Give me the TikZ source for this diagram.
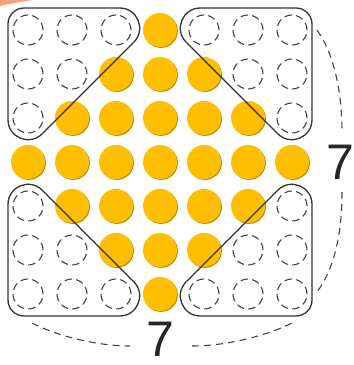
\documentclass[tikz,border=0pt]{standalone}
\usepackage{fontspec}
\setmainfont{Liberation Sans}
\usetikzlibrary{shadows}
\definecolor{yel}{HTML}{FFBF00}
\definecolor{ydark}{HTML}{B88A00}
\definecolor{linec}{HTML}{333333}
\definecolor{dashc}{HTML}{444444}
\definecolor{orng}{HTML}{F7A27A}
\tikzset{
  ydot/.style={circle, inner sep=0pt, minimum size=34pt, fill=yel,
    drop shadow={shadow xshift=0.9pt, shadow yshift=-0.9pt, fill=ydark, opacity=1}},
  edot/.style={circle, inner sep=0pt, minimum size=30pt, draw=dashc, line width=1.1pt,
    dash pattern=on 7.5pt off 4.3pt},
  tribox/.style={draw=linec, line width=1.3pt},
  brace/.style={draw=dashc, line width=1.1pt, dash pattern=on 7pt off 5pt},
  numlab/.style={font=\fontsize{50}{50}\selectfont, text=black!85, inner sep=0pt}
}
\newcommand{\trishape}{(24,8) -- (119.7,8) .. controls (137.5,8) and (146.4,29.6) .. (133.85,42.15) -- (42.15,133.85) .. controls (29.6,146.4) and (8,137.5) .. (8,119.7) -- (8,24) .. controls (8,15.2) and (15.2,8) .. (24,8) -- cycle}
\begin{document}
\begin{tikzpicture}[x=1pt,y=-1pt]
\useasboundingbox (0,0) rectangle (354,365);
\fill[white] (0,0) rectangle (354,365);
\fill[orng] (0,0) -- (32,0) .. controls (20,2) and (8,4) .. (0,6) -- cycle;
\foreach \r in {0,...,6}{
  \foreach \c in {0,...,6}{
    \pgfmathtruncatemacro{\d}{abs(\r-3)+abs(\c-3)}
    \pgfmathsetmacro{\xx}{28+44*\c}
    \pgfmathsetmacro{\yy}{30+44*\r}
    \ifnum\d<4
      \node[ydot] (d-\r-\c) at (\xx,\yy) {};
    \else
      \node[edot] (d-\r-\c) at (\xx,\yy) {};
    \fi
  }
}
% rounded triangles
\draw[tribox] \trishape;
\begin{scope}[xshift=320pt, xscale=-1]
  \draw[tribox] \trishape;
\end{scope}
\begin{scope}[yshift=-324pt, yscale=-1]
  \draw[tribox] \trishape;
\end{scope}
\begin{scope}[xshift=320pt, xscale=-1, yshift=-324pt, yscale=-1]
  \draw[tribox] \trishape;
\end{scope}
% labels
\node[numlab] (lr) at (340,162) {7};
\node[numlab] (lb) at (160,339) {7};
% dashed brackets
\coordinate (rt) at (317,30);
\coordinate (rb) at (317,292);
\coordinate (bl) at (32,323);
\coordinate (br) at (292,323);
\draw[brace] (rt) .. controls (335,55) and (342,95) .. (342,132);
\draw[brace] (342,192) .. controls (342,232) and (335,268) .. (rb);
\draw[brace] (bl) .. controls (55,335) and (95,346) .. (130,346);
\draw[brace] (192,346) .. controls (226,346) and (266,336) .. (br);
\end{tikzpicture}
\end{document}
